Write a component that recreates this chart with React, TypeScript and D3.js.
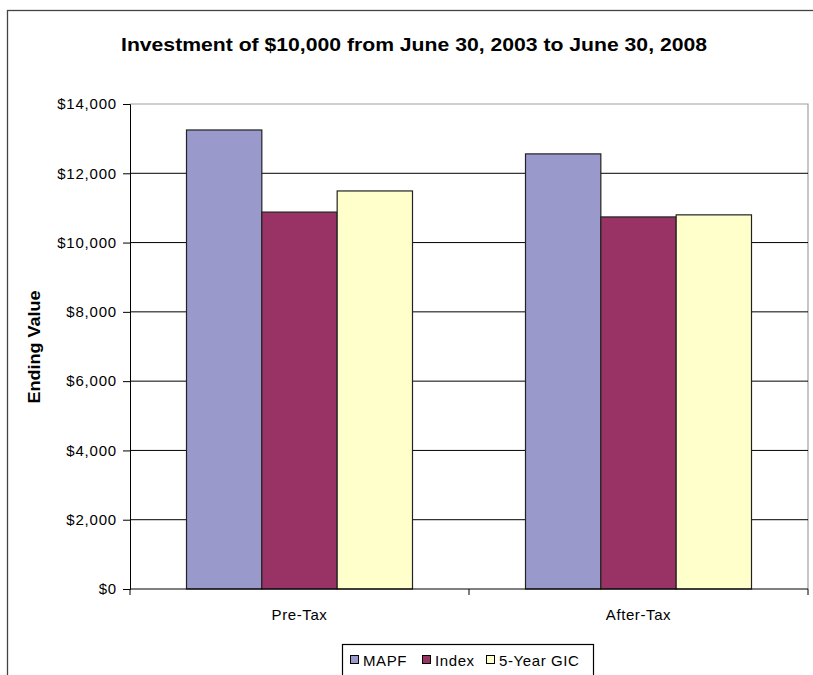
import React, { useEffect, useRef } from "react";
import * as d3 from "d3";

const categories = ["Pre-Tax", "After-Tax"];
const seriesNames = ["MAPF", "Index", "5-Year GIC"];
const mapfValues = [13250, 12560];
const indexValues = [10880, 10740];
const gicValues = [11490, 10800];
const seriesColors = ["#9999CC", "#993366", "#FFFFCC"];
const yTicks = [0, 2000, 4000, 6000, 8000, 10000, 12000, 14000];
const titleText = "Investment of $10,000 from June 30, 2003 to June 30, 2008";
const yLabel = "Ending Value";

export default function App() {
  const ref = useRef<SVGSVGElement>(null);
  useEffect(() => {
    const svg = d3.select(ref.current);
    svg.selectAll("*").remove();
    const W = 813, H = 675;
    const left = 130, right = 808, top = 104, bottom = 589;
    const font = "'Liberation Sans', Arial, sans-serif";

    svg.append("rect").attr("x", 0).attr("y", 0).attr("width", W).attr("height", H).attr("fill", "#fff");
    // outer chart border
    svg.append("rect").attr("x", 7.5).attr("y", 10.5).attr("width", 820).attr("height", 700)
      .attr("fill", "none").attr("stroke", "#444").attr("stroke-width", 1.3);

    const x0 = d3.scaleBand().domain(categories).range([left, right]).paddingInner(0).paddingOuter(0);
    const groupW = x0.bandwidth() * 3 / 4.5;
    const x1 = d3.scaleBand().domain(seriesNames).range([0, groupW]).padding(0);
    const y = d3.scaleLinear().domain([0, 14000]).range([bottom, top]);

    // plot area border (top/right gray)
    svg.append("path").attr("d", `M${left},${top}H${right}V${bottom}`).attr("fill", "none")
      .attr("stroke", "#a0a0a0").attr("stroke-width", 1.2);

    // gridlines
    svg.append("g").selectAll("line").data(yTicks.filter(t => t > 0 && t < 14000)).join("line")
      .attr("x1", left).attr("x2", right).attr("y1", d => y(d)).attr("y2", d => y(d))
      .attr("stroke", "#000").attr("stroke-width", 1);

    const values = [mapfValues, indexValues, gicValues];
    seriesNames.forEach((s, si) => {
      svg.append("g").selectAll("rect").data(categories).join("rect")
        .attr("x", (c) => (x0(c) as number) + (x0.bandwidth() - groupW) / 2 + (x1(s) as number))
        .attr("y", (c, i) => y(values[si][i]))
        .attr("width", x1.bandwidth())
        .attr("height", (c, i) => bottom - y(values[si][i]))
        .attr("fill", seriesColors[si]).attr("stroke", "#222").attr("stroke-width", 1.2);
    });

    // y axis
    const yAxis = d3.axisLeft(y).tickValues(yTicks).tickSize(7).tickPadding(6)
      .tickFormat(d => "$" + d3.format(",")(d as number));
    const gy = svg.append("g").attr("transform", `translate(${left},0)`).call(yAxis);
    gy.select(".domain").attr("stroke", "#000");
    gy.selectAll("line").attr("stroke", "#000");
    gy.selectAll("text").attr("font-family", font).attr("font-size", 15)
      .attr("letter-spacing", 0.8).attr("fill", "#000");

    // x axis
    svg.append("line").attr("x1", left).attr("x2", right).attr("y1", bottom).attr("y2", bottom).attr("stroke", "#000");
    const xTickPos = [left, left + x0.bandwidth(), right];
    svg.append("g").selectAll("line").data(xTickPos).join("line")
      .attr("x1", d => d).attr("x2", d => d).attr("y1", bottom).attr("y2", bottom + 6).attr("stroke", "#000");
    svg.append("g").selectAll("text").data(categories).join("text")
      .attr("x", c => (x0(c) as number) + x0.bandwidth() / 2).attr("y", 620)
      .attr("text-anchor", "middle").attr("font-family", font).attr("font-size", 15)
      .attr("letter-spacing", 0.6).text(c => c);

    // title
    svg.append("text").attr("x", 414).attr("y", 51).attr("text-anchor", "middle")
      .attr("font-family", font).attr("font-size", 18.5).attr("font-weight", "bold")
      .attr("textLength", 586).attr("lengthAdjust", "spacingAndGlyphs").text(titleText);

    // y label
    svg.append("text").attr("transform", "translate(40,347) rotate(-90)").attr("text-anchor", "middle")
      .attr("font-family", font).attr("font-size", 16).attr("font-weight", "bold")
      .attr("textLength", 113).attr("lengthAdjust", "spacingAndGlyphs").text(yLabel);

    // legend
    svg.append("rect").attr("x", 342.5).attr("y", 644.5).attr("width", 251).attr("height", 40)
      .attr("fill", "#fff").attr("stroke", "#000").attr("stroke-width", 1.2);
    const legX = [350, 422, 486];
    seriesNames.forEach((s, i) => {
      svg.append("rect").attr("x", legX[i] + 0.5).attr("y", 655.5).attr("width", 8).attr("height", 8)
        .attr("fill", seriesColors[i]).attr("stroke", "#000");
      svg.append("text").attr("x", legX[i] + 13).attr("y", 666).attr("font-family", font)
        .attr("font-size", 15).attr("letter-spacing", 0.6).text(s);
    });
  }, []);
  return (
    <svg ref={ref} width={813} height={675} style={{ position: "absolute", left: 0, top: 0, display: "block" }} />
  );
}
